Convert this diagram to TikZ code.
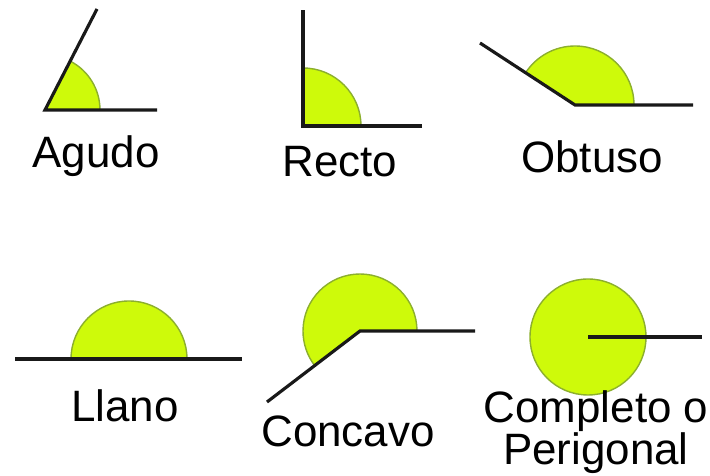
\documentclass[tikz,border=0pt]{standalone}
\usepackage{fontspec}
\setmainfont{Liberation Sans}
\usepackage{xcolor}
\usepackage{tikz}
\usetikzlibrary{calc}

\definecolor{lime}{RGB}{206,250,10}
\definecolor{limeedge}{RGB}{140,175,45}

\begin{document}
\begin{tikzpicture}[
    x=0.02cm, y=0.02cm,
    every node/.style={font=\fontsize{25}{24.4}\selectfont, align=center, inner sep=0pt},
    label/.style={anchor=base},
    sector/.style={fill=lime, draw=limeedge, line width=0.8pt},
    side/.style={draw=black!90, line width=1.8pt}
]
\useasboundingbox (0,0) rectangle (710,476);

% Agudo
\coordinate (agV) at (45,366);
\filldraw[sector] (agV) -- ++(0:55) arc[start angle=0, end angle=62.5, radius=55] -- cycle;
\draw[side] (157,366) coordinate (agR) -- (agV) -- (97,467) coordinate (agT);
\node (agudo) [label] at (96,308) {Agudo};

% Recto
\coordinate (reV) at (303,350);
\filldraw[sector] (reV) -- ++(0:58) arc[start angle=0, end angle=90, radius=58] -- cycle;
\draw[side] (422,350) coordinate (reR) -- (reV) -- (303,466) coordinate (reT);
\node (recto) [label] at (340,299) {Recto};

% Obtuso
\coordinate (obV) at (575,371);
\filldraw[sector] (obV) -- ++(0:59) arc[start angle=0, end angle=147, radius=59] -- cycle;
\draw[side] (693,371) coordinate (obR) -- (obV) -- (480,433) coordinate (obL);
\node (obtuso) [label] at (592,303) {Obtuso};

% Llano
\coordinate (llV) at (129,117);
\filldraw[sector] (llV) -- ++(0:58) arc[start angle=0, end angle=180, radius=58] -- cycle;
\draw[side] (15,117) coordinate (llL) -- (242,117) coordinate (llR);
\node (llano) [label] at (125,54) {Llano};

% Concavo
\coordinate (coV) at (360,145);
\filldraw[sector] (coV) -- ++(0:57) arc[start angle=0, end angle=217, radius=57] -- cycle;
\draw[side] (475,145) coordinate (coR) -- (coV) -- (267,74) coordinate (coL);
\node (concavo) [label] at (348,29) {Concavo};

% Completo o Perigonal
\coordinate (cpV) at (588,139);
\filldraw[sector] (cpV) circle[radius=58];
\draw[side] (cpV) -- (702,139) coordinate (cpR);
\node (completo) [label] at (596,11) {Completo o\\Perigonal};

\end{tikzpicture}
\end{document}
